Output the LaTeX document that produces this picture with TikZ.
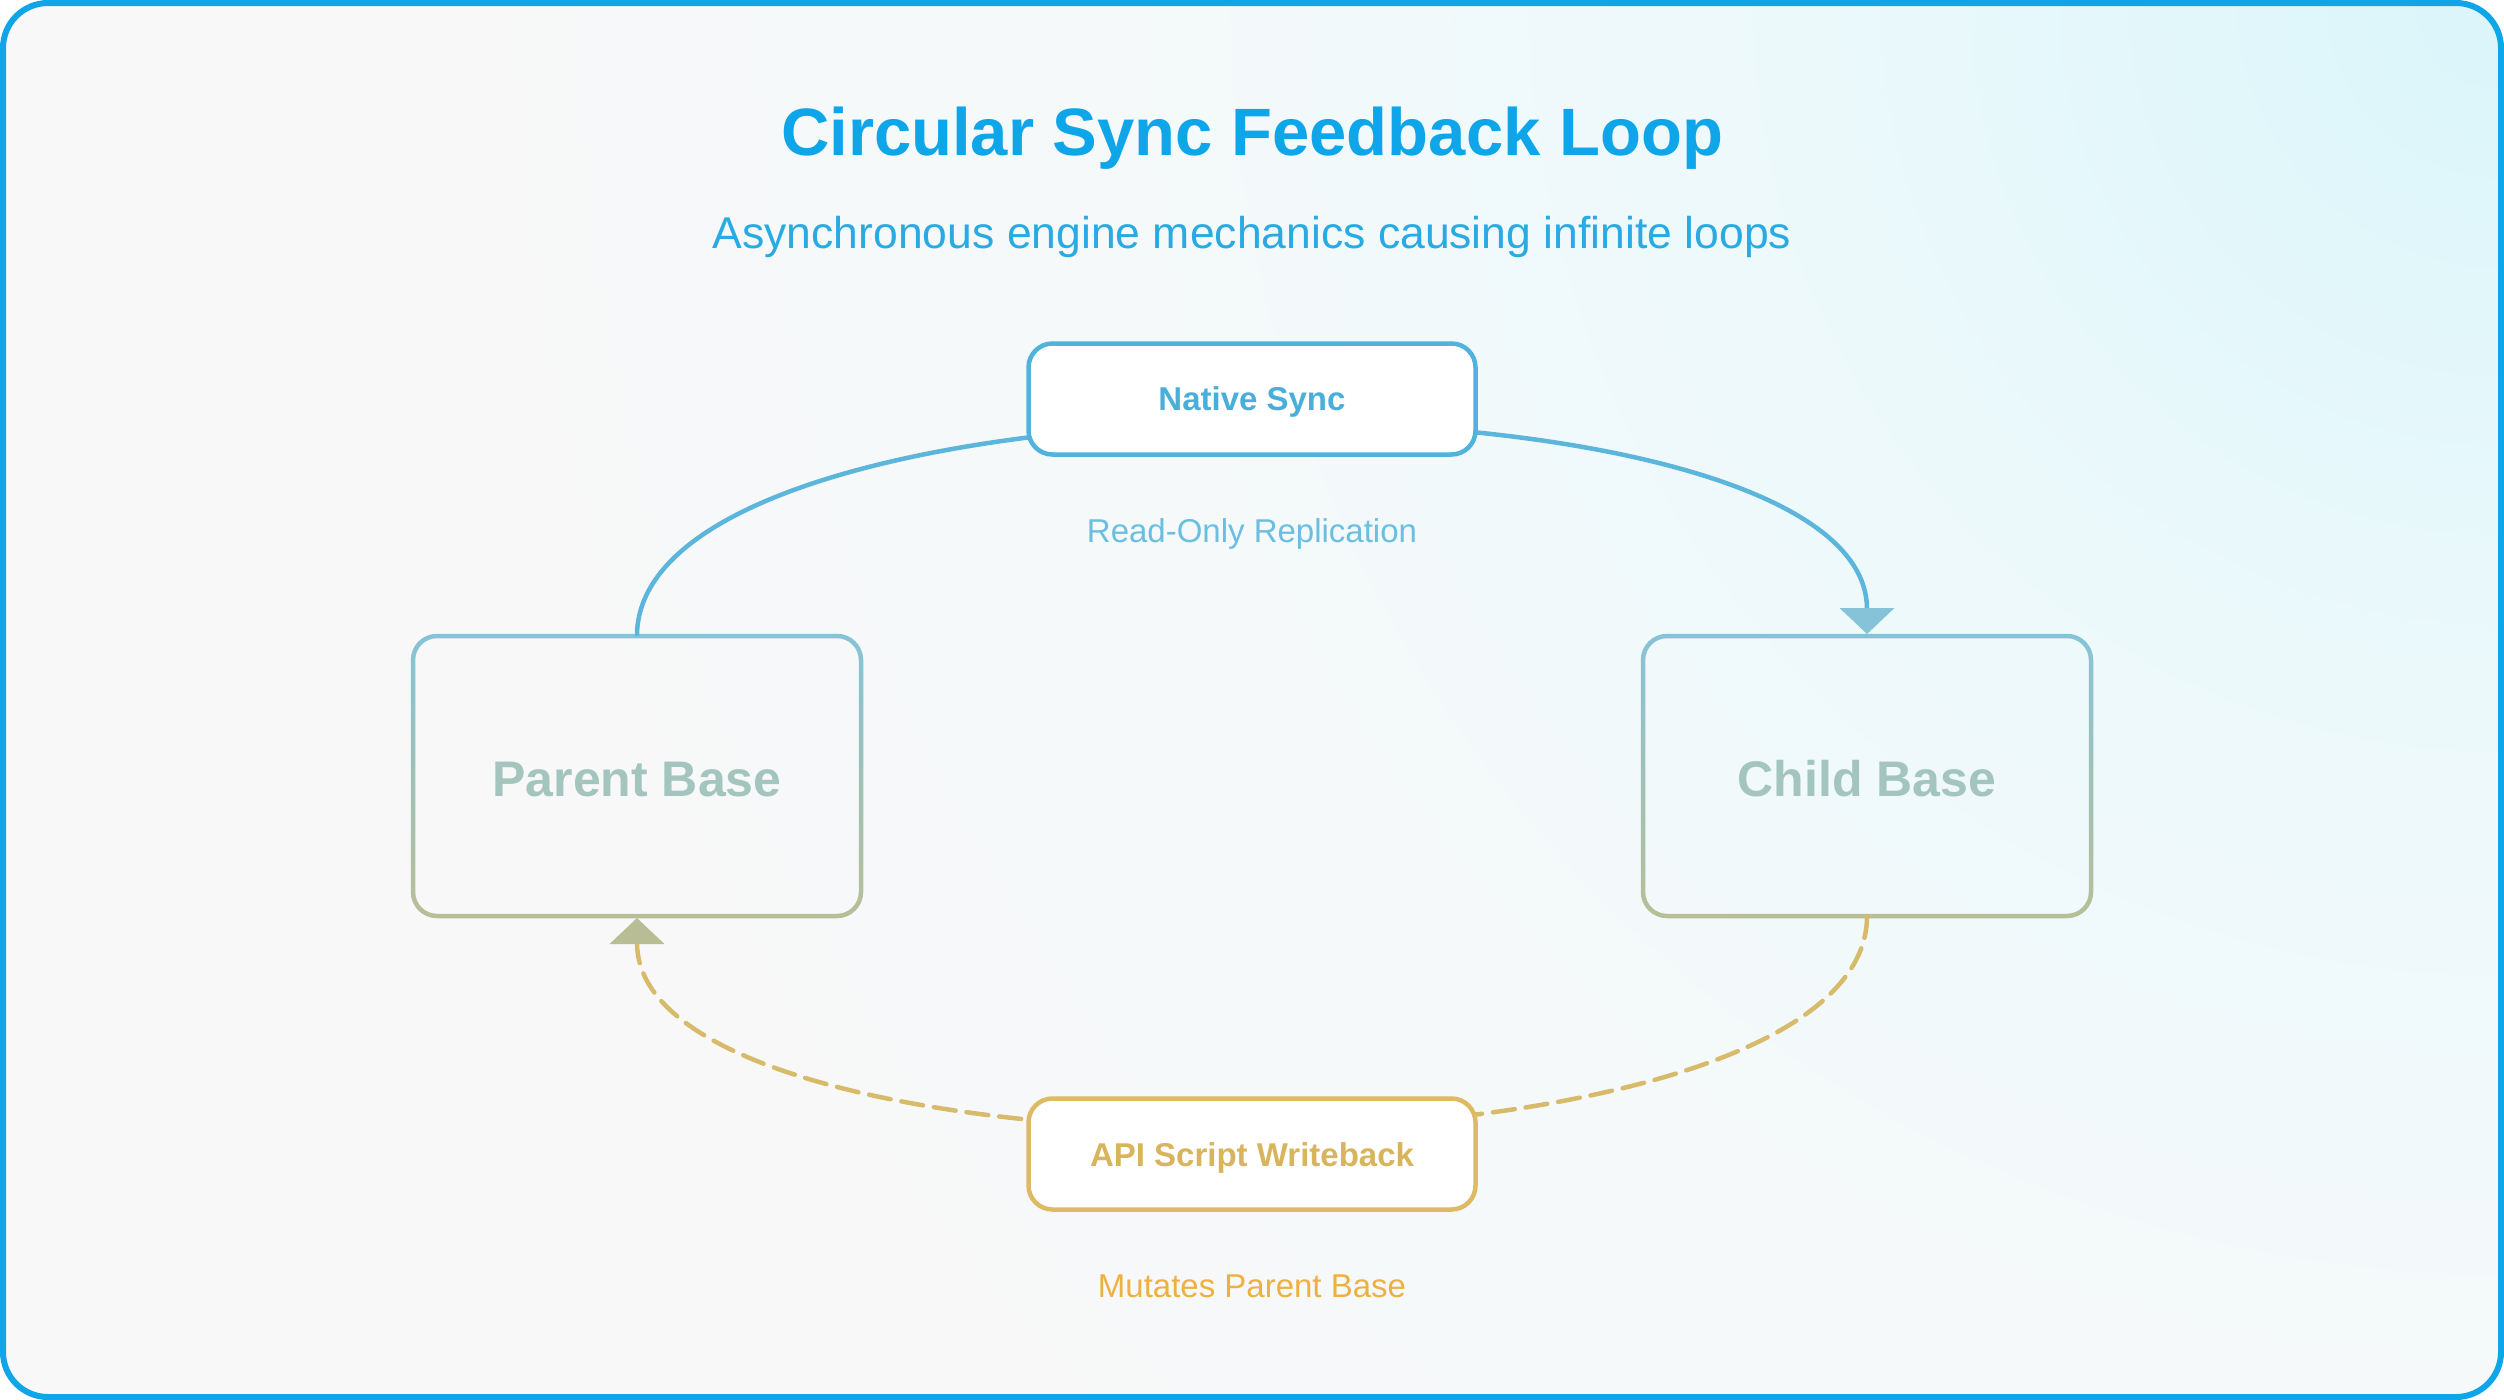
\documentclass[tikz,border=0pt]{standalone}
\usepackage{fontspec}
\setmainfont{Liberation Sans}
\usetikzlibrary{arrows.meta,calc}
\definecolor{frameblue}{HTML}{0EA5E9}
\definecolor{titleblue}{HTML}{0EA5E9}
\definecolor{subblue}{HTML}{2AAAE2}
\definecolor{syncblue}{HTML}{4FB3DE}
\definecolor{synctext}{HTML}{4AAEDB}
\definecolor{replabel}{HTML}{6CBEE0}
\definecolor{curveblue}{HTML}{5CB6DC}
\definecolor{tipblue}{HTML}{86C3D9}
\definecolor{boxtop}{HTML}{86C3D8}
\definecolor{boxbot}{HTML}{B8BF97}
\definecolor{basetext}{HTML}{A3C5BE}
\definecolor{apigold}{HTML}{DDBA63}
\definecolor{apitext}{HTML}{D8B45C}
\definecolor{mutlabel}{HTML}{EEB040}
\definecolor{dashgold}{HTML}{D7BB6B}
\definecolor{tipolive}{HTML}{B8BD96}
\definecolor{bgtr}{HTML}{DAF5FA}
\definecolor{bgca}{HTML}{ECF9FB}
\definecolor{bgcb}{HTML}{F5F9FA}
\definecolor{bgbl}{HTML}{F8F8F8}
\pgfdeclareradialshading{bgglow}{\pgfpointorigin}{color(0bp)=(bgtr); color(8.5bp)=(bgca); color(16.5bp)=(bgcb); color(25bp)=(bgbl); color(50bp)=(bgbl)}
\begin{document}
\begin{tikzpicture}[x=1pt,y=-1pt,
  pill/.style={rectangle, rounded corners=24pt, line width=4.5pt, fill=white,
    minimum width=447pt, minimum height=111pt, inner sep=0pt, outer sep=0pt,
    font=\bfseries\fontsize{33}{40}\selectfont, text depth=2pt},
  basebox/.style={rectangle, minimum width=448pt, minimum height=280pt,
    inner sep=0pt, outer sep=0pt, text=basetext,
    font=\bfseries\fontsize{50}{60}\selectfont, text height=42pt, text depth=2pt},
  ring/.style={top color=boxtop, bottom color=boxbot, even odd rule},
  label/.style={anchor=base, font=\fontsize{33}{40}\selectfont},
  link/.style={line width=4.5pt},
]
\useasboundingbox (0,0) rectangle (2504,1400);
% background
\begin{scope}
  \clip[rounded corners=45pt] (3,3) rectangle (2501,1397);
  \fill[bgbl] (3,3) rectangle (2501,1397);
  \shade[shading=bgglow] (2504,0) circle (2100);
\end{scope}
\draw[frameblue, line width=6pt, rounded corners=45pt] (3,3) rectangle (2501,1397);

% titles
\node[anchor=base, text=titleblue, font=\bfseries\fontsize{67}{80}\selectfont] (title) at (1252,155) {Circular Sync Feedback Loop};
\node[anchor=base, text=subblue, font=\fontsize{44.5}{52}\selectfont] (subtitle) at (1252,248) {Asynchronous engine mechanics causing infinite loops};

% bases
\node[basebox] (parent) at (637,776) {Parent Base};
\node[basebox] (child) at (1867,776) {Child Base};
\foreach \n in {parent,child}{
  \shade[ring, rounded corners=26.25pt]
    ($(\n.north west)+(-2.25,-2.25)$) rectangle ($(\n.south east)+(2.25,2.25)$)
    [rounded corners=21.75pt]
    ($(\n.north west)+(2.25,2.25)$) rectangle ($(\n.south east)+(-2.25,-2.25)$);
}

% top connector
\draw[link, curveblue, shorten >=2pt, -{Triangle[width=54pt,length=26pt,color=tipblue]}]
  (parent.north) .. controls +(0,-280) and +(0,-280) .. (child.north);
\node[pill, draw=syncblue, text=synctext, text height=24pt] (sync) at (1252,399) {Native Sync};
\node[label, text=replabel] (replabel) at (1252,542) {Read-Only Replication};

% bottom connector
\draw[link, dashgold, line cap=round, dash pattern=on 22pt off 11pt, shorten >=2pt,
  -{Triangle[width=54pt,length=26pt,color=tipolive]}]
  (child.south) .. controls +(0,280) and +(0,280) .. (parent.south);
\node[pill, draw=apigold, text=apitext, text height=26pt] (api) at (1252,1154) {API Script Writeback};
\node[label, text=mutlabel] (mutlabel) at (1252,1297) {Mutates Parent Base};
\end{tikzpicture}
\end{document}
